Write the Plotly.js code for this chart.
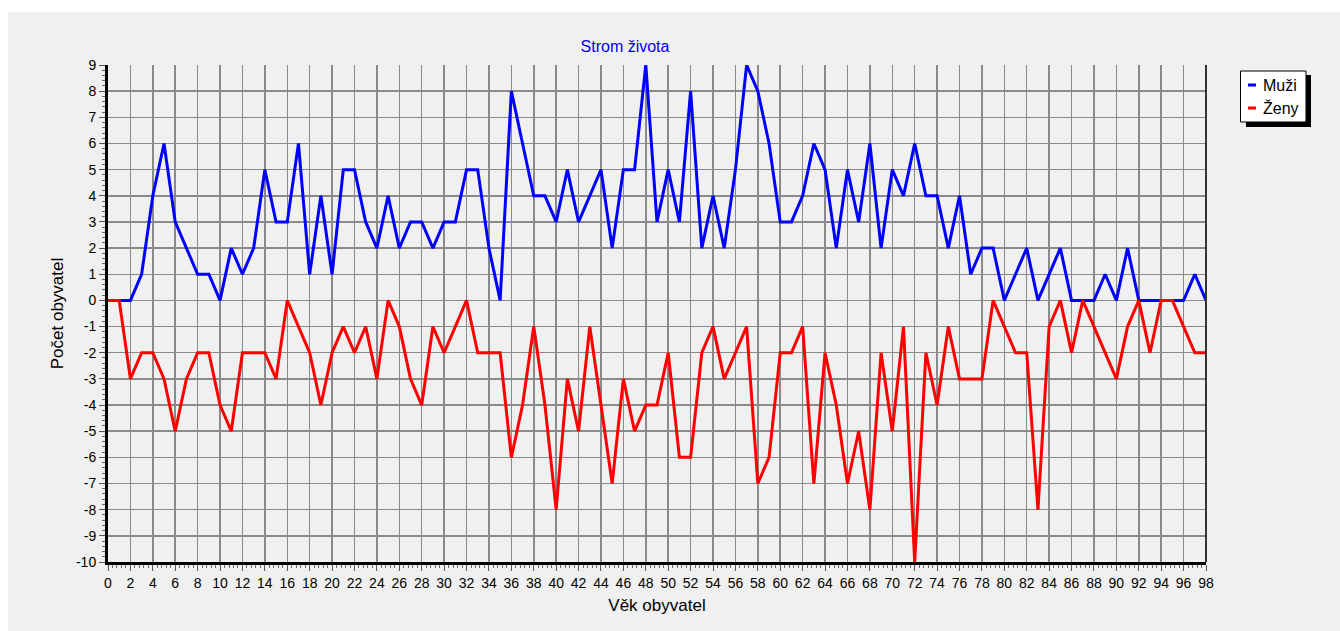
<!DOCTYPE html>
<html>
<head>
<meta charset="utf-8">
<script src="https://cdn.plot.ly/plotly-3.0.1.min.js"></script>
<style>html,body{margin:0;padding:0;background:#fff;}#chart{width:1340px;height:631px;}</style>
</head>
<body>
<div id="chart"></div>
<script>
const ages = [];
for (let i = 0; i <= 98; i++) ages.push(i);

const muzi = [0,0,0,1,4,6,3,2,1,1, 0,2,1,2,5,3,3,6,1,4,
              1,5,5,3,2,4,2,3,3,2, 3,3,5,5,2,0,8,6,4,4,
              3,5,3,4,5,2,5,5,9,3, 5,3,8,2,4,2,5,9,8,6,
              3,3,4,6,5,2,5,3,6,2, 5,4,6,4,4,2,4,1,2,2,
              0,1,2,0,1,2,0,0,0,1, 0,2,0,0,0,0,0,1,0];

const zeny = [0,0,-3,-2,-2,-3,-5,-3,-2,-2, -4,-5,-2,-2,-2,-3,0,-1,-2,-4,
              -2,-1,-2,-1,-3,0,-1,-3,-4,-1, -2,-1,0,-2,-2,-2,-6,-4,-1,-4,
              -8,-3,-5,-1,-4,-7,-3,-5,-4,-4, -2,-6,-6,-2,-1,-3,-2,-1,-7,-6,
              -2,-2,-1,-7,-2,-4,-7,-5,-8,-2, -5,-1,-10,-2,-4,-1,-3,-3,-3,0,
              -1,-2,-2,-8,-1,0,-2,0,-1,-2, -3,-1,0,-2,0,0,-1,-2,-2];

const seriesNames = ['Muži', 'Ženy'];
const seriesColors = ['#0000ff', '#ff0000'];
const xTickVals = [];
for (let i = 0; i <= 98; i += 2) xTickVals.push(i);
const yTickVals = [];
for (let v = -10; v <= 9; v++) yTickVals.push(v);

const W = 1340, H = 631;
const L = 108, R = 1206, T = 65, B = 562;
// pixel -> paper (plot-area normalised) helpers for decorations
const px = v => (v - L) / (R - L);
const py = v => (B - v) / (B - T);

const traces = [
  {x: ages, y: muzi, name: seriesNames[0], type: 'scatter', mode: 'lines',
   line: {color: seriesColors[0], width: 3}, showlegend: false},
  {x: ages, y: zeny, name: seriesNames[1], type: 'scatter', mode: 'lines',
   line: {color: seriesColors[1], width: 3}, showlegend: false}
];

const FAM = 'Liberation Sans, Arial, sans-serif';
const tickFont = {family: FAM, size: 14, color: '#000'};
const titleFont = {family: FAM, size: 17, color: '#000'};

// legend (drawn as shapes + text annotations)
const legendShapes = [
  {type: 'rect', xref: 'paper', yref: 'paper', layer: 'below',
   x0: px(1246), x1: px(1311), y0: py(127), y1: py(75),
   fillcolor: '#000', line: {width: 0}},
  {type: 'rect', xref: 'paper', yref: 'paper', layer: 'below',
   x0: px(1240.5), x1: px(1306), y0: py(122), y1: py(71),
   fillcolor: '#fff', line: {color: '#000', width: 1}}
];
const legendAnn = [];
seriesNames.forEach((nm, i) => {
  const yc = 85 + i * 23;
  legendShapes.push({type: 'line', xref: 'paper', yref: 'paper', layer: 'below',
    x0: px(1248), x1: px(1256), y0: py(yc), y1: py(yc),
    line: {color: seriesColors[i], width: 3}});
  legendAnn.push({xref: 'paper', yref: 'paper', x: px(1261), y: py(yc),
    xanchor: 'left', yanchor: 'middle', showarrow: false, text: nm,
    font: {family: FAM, size: 16, color: '#000'}});
});

const layout = {
  width: W, height: H,
  paper_bgcolor: '#ffffff',
  plot_bgcolor: '#f0f0f0',
  margin: {l: L, r: W - R, t: T, b: H - B, pad: 0},
  font: tickFont,
  title: {text: 'Strom života', font: {family: FAM, size: 16, color: '#0000ff'},
          xref: 'container', x: 625 / W, xanchor: 'center',
          yref: 'container', y: 1 - 46 / H, yanchor: 'middle'},
  showlegend: false,
  xaxis: {
    range: [0, 98], tickmode: 'array', tickvals: xTickVals, ticktext: xTickVals.map(String),
    showgrid: true, gridcolor: '#8a8a8a', gridwidth: 1.5,
    zeroline: false, showline: true, linecolor: '#000', linewidth: 3,
    ticks: 'outside', ticklen: 6, tickcolor: '#555', tickwidth: 1,
    minor: {dtick: 0.4, ticks: 'outside', ticklen: 3, tickcolor: '#666', showgrid: false},
    tickfont: tickFont, fixedrange: true,
    title: {text: 'Věk obyvatel', font: titleFont, standoff: 10}
  },
  yaxis: {
    range: [-10, 9], tickmode: 'array', tickvals: yTickVals, ticktext: yTickVals.map(String),
    showgrid: true, gridcolor: '#8a8a8a', gridwidth: 1.5,
    zeroline: false, showline: true, linecolor: '#000', linewidth: 3,
    ticks: 'outside', ticklen: 6, tickcolor: '#555', tickwidth: 1,
    minor: {dtick: 0.2, ticks: 'outside', ticklen: 3, tickcolor: '#666', showgrid: false},
    tickfont: tickFont, fixedrange: true,
    title: {text: 'Počet obyvatel', font: titleFont, standoff: 9}
  },
  shapes: [
    {type: 'rect', xref: 'paper', yref: 'paper', layer: 'below',
     x0: px(8), x1: px(W), y0: py(H), y1: py(12),
     fillcolor: '#f0f0f0', line: {width: 0}},
    {type: 'line', xref: 'paper', yref: 'paper', layer: 'above',
     x0: 1, x1: 1, y0: 0, y1: 1, line: {color: '#333', width: 2}}
  ].concat(legendShapes),
  annotations: legendAnn
};

Plotly.newPlot('chart', traces, layout, {displayModeBar: false, staticPlot: true});
</script>
</body>
</html>
